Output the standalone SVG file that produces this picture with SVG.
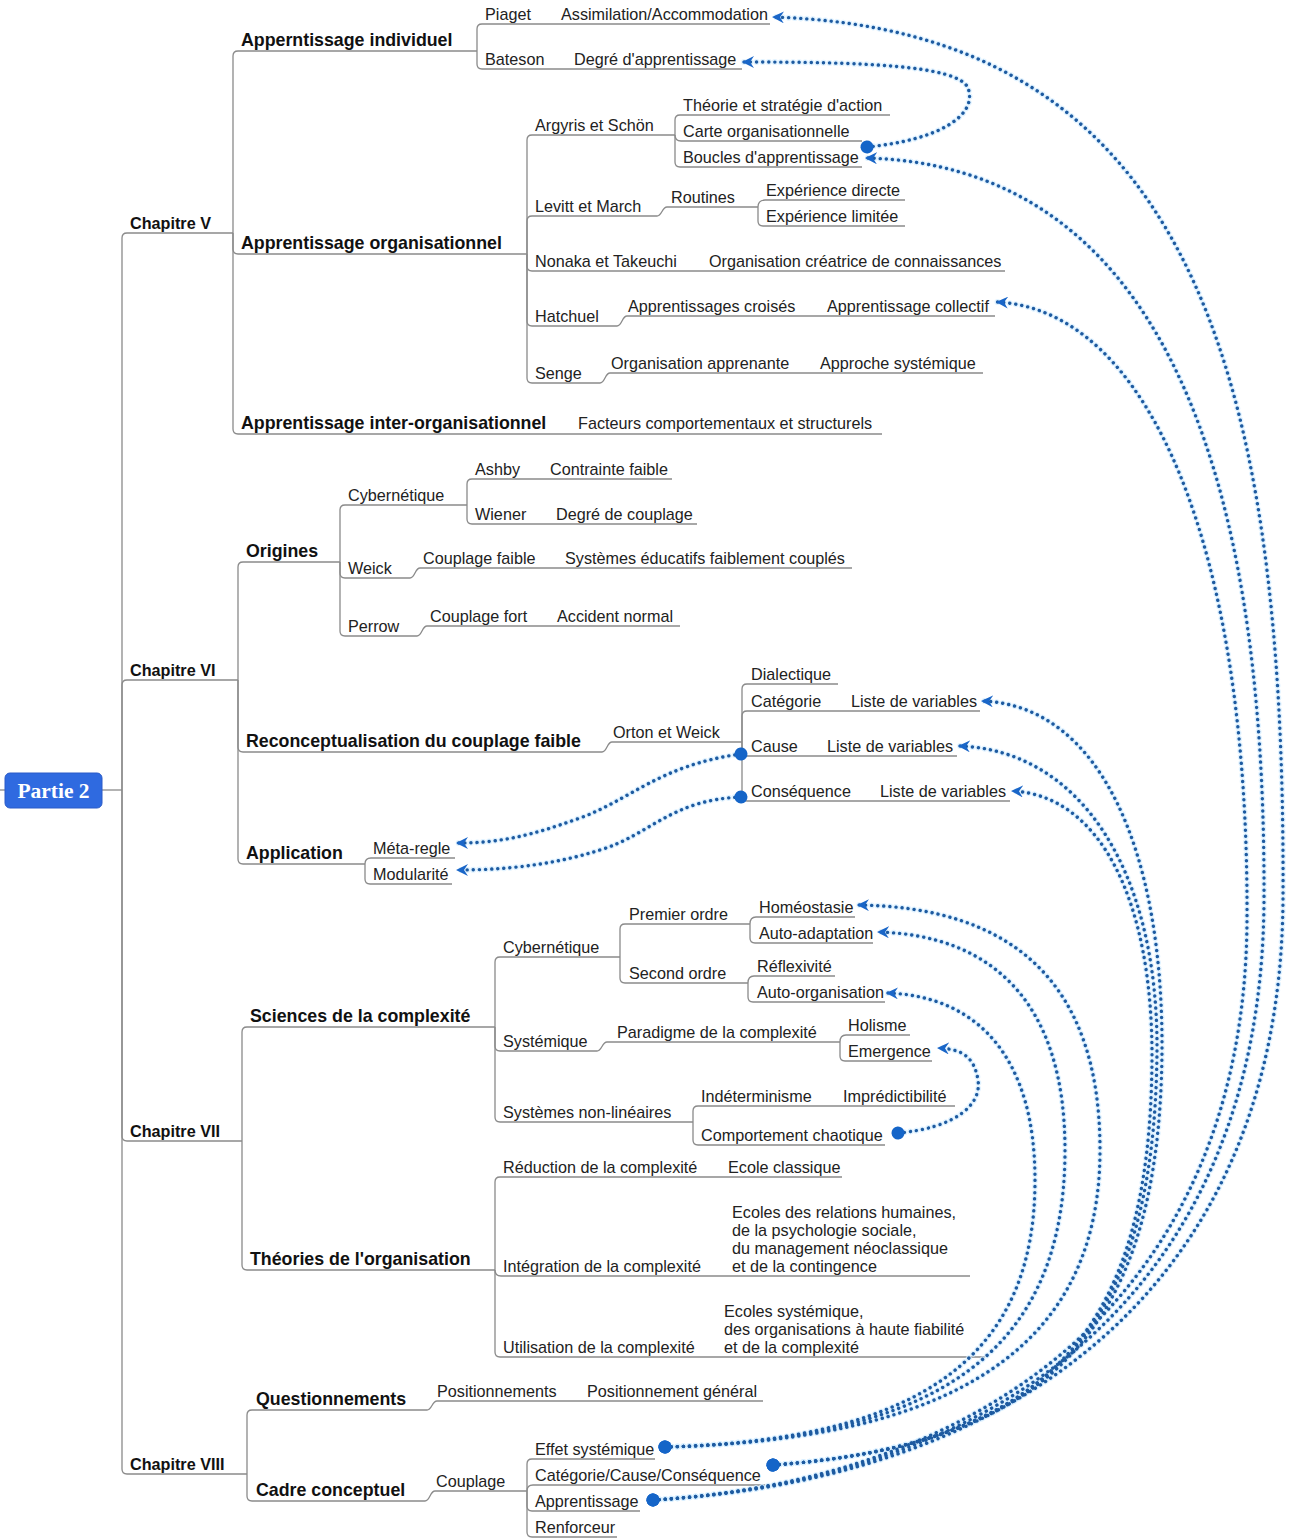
<svg xmlns="http://www.w3.org/2000/svg" width="1295" height="1539" viewBox="0 0 1295 1539">
<style>
.t{font-family:"Liberation Sans",Arial,sans-serif;font-size:16.2px;fill:#222}
.b2{font-family:"Liberation Sans",Arial,sans-serif;font-weight:bold;font-size:17.8px;fill:#111}
.ch{font-family:"Liberation Sans",Arial,sans-serif;font-weight:bold;font-size:16.2px;fill:#111}
.ln{fill:none;stroke:#8a8a8a;stroke-width:1.3}
.halo{fill:none;stroke:#d3ecff;stroke-width:6;stroke-dasharray:0.1 6;stroke-linecap:round;opacity:0.7}
.rel{fill:none;stroke:#1d5aa0;stroke-width:3.4;stroke-dasharray:0.1 6;stroke-linecap:round}
.arr{marker-end:url(#chev)}
.dot{marker-start:url(#dot)}
</style>
<defs>
<marker id="chev" viewBox="0 0 12 12" refX="11" refY="6" markerWidth="12" markerHeight="12" markerUnits="userSpaceOnUse" orient="auto">
<path d="M0,0 L12,6 L0,12 L4,6 Z" fill="#1a66c8"/>
</marker>
<marker id="dot" viewBox="-7 -7 14 14" refX="0" refY="0" markerWidth="14" markerHeight="14" markerUnits="userSpaceOnUse" orient="auto">
<circle r="6.5" fill="#1565c8"/>
</marker>
</defs>
<rect width="1295" height="1539" fill="#fff"/>

<g id="connectors">
<path class="ln" d="M0,790 H5"/>
<path class="ln" d="M102,790 H122"/>
<path class="ln" d="M122,790 V238 Q122,233 127,233 H233"/>
<path class="ln" d="M122,790 V685 Q122,680 127,680 H238"/>
<path class="ln" d="M122,790 V1136 Q122,1141 127,1141 H242"/>
<path class="ln" d="M122,790 V1469 Q122,1474 127,1474 H247"/>
<path class="ln" d="M233,233 V56 Q233,51 238,51 H477"/>
<path class="ln" d="M233,233 V249 Q233,254 238,254 H527"/>
<path class="ln" d="M233,233 V429 Q233,434 238,434 H882"/>
<path class="ln" d="M477,51 V29 Q477,24 482,24 H770"/>
<path class="ln" d="M477,51 V64 Q477,69 482,69 H742"/>
<path class="ln" d="M527,254 V140 Q527,135 532,135 H675"/>
<path class="ln" d="M675,135 V120 Q675,115 680,115 H890"/>
<path class="ln" d="M675,135 Q675,141 681,141 H862"/>
<path class="ln" d="M675,135 V162 Q675,167 680,167 H862"/>
<path class="ln" d="M527,254 V221 Q527,216 532,216 H657 C662,216 662,207 667,207 H758"/>
<path class="ln" d="M758,207 Q758,200 765,200 H905"/>
<path class="ln" d="M758,207 V221 Q758,226 763,226 H905"/>
<path class="ln" d="M527,254 V266 Q527,271 532,271 H1005"/>
<path class="ln" d="M527,254 V321 Q527,326 532,326 H617 C622,326 622,316 627,316 H995"/>
<path class="ln" d="M527,254 V378 Q527,383 532,383 H600 C605,383 605,373 610,373 H983"/>
<path class="ln" d="M238,680 V567 Q238,562 243,562 H340"/>
<path class="ln" d="M340,562 V510 Q340,505 345,505 H467"/>
<path class="ln" d="M467,505 V484 Q467,479 472,479 H672"/>
<path class="ln" d="M467,505 V519 Q467,524 472,524 H697"/>
<path class="ln" d="M340,562 V573 Q340,578 345,578 H410 C415,578 415,568 420,568 H852"/>
<path class="ln" d="M340,562 V631 Q340,636 345,636 H417 C422,636 422,626 427,626 H680"/>
<path class="ln" d="M238,680 V747 Q238,752 243,752 H602 C607,752 607,742 612,742 H742"/>
<path class="ln" d="M742,742 V689 Q742,684 747,684 H838"/>
<path class="ln" d="M742,742 V716 Q742,711 747,711 H980"/>
<path class="ln" d="M742,742 V751 Q742,756 747,756 H957"/>
<path class="ln" d="M742,742 V796 Q742,801 747,801 H1010"/>
<path class="ln" d="M238,680 V859 Q238,864 243,864 H365"/>
<path class="ln" d="M365,864 Q365,858 371,858 H455"/>
<path class="ln" d="M365,864 V879 Q365,884 370,884 H452"/>
<path class="ln" d="M242,1141 V1032 Q242,1027 247,1027 H495"/>
<path class="ln" d="M495,1027 V962 Q495,957 500,957 H620"/>
<path class="ln" d="M620,957 V929 Q620,924 625,924 H750"/>
<path class="ln" d="M750,924 Q750,917 756,917 H855"/>
<path class="ln" d="M750,924 V938 Q750,943 755,943 H873"/>
<path class="ln" d="M620,957 V978 Q620,983 625,983 H748"/>
<path class="ln" d="M748,983 Q748,976 754,976 H835"/>
<path class="ln" d="M748,983 V997 Q748,1002 753,1002 H885"/>
<path class="ln" d="M495,1027 V1046 Q495,1051 500,1051 H597 C602,1051 602,1042 607,1042 H840"/>
<path class="ln" d="M840,1042 Q840,1035 846,1035 H910"/>
<path class="ln" d="M840,1042 V1056 Q840,1061 845,1061 H932"/>
<path class="ln" d="M495,1027 V1117 Q495,1122 500,1122 H693"/>
<path class="ln" d="M693,1122 V1111 Q693,1106 698,1106 H955"/>
<path class="ln" d="M693,1122 V1140 Q693,1145 698,1145 H885"/>
<path class="ln" d="M242,1141 V1265 Q242,1270 247,1270 H495"/>
<path class="ln" d="M495,1270 V1182 Q495,1177 500,1177 H842"/>
<path class="ln" d="M495,1270 Q495,1276 501,1276 H970"/>
<path class="ln" d="M495,1270 V1352 Q495,1357 500,1357 H985"/>
<path class="ln" d="M247,1474 V1415 Q247,1410 252,1410 H427 C432,1410 432,1401 437,1401 H763"/>
<path class="ln" d="M247,1474 V1496 Q247,1501 252,1501 H425 C430,1501 430,1491 435,1491 H527"/>
<path class="ln" d="M527,1491 V1464 Q527,1459 532,1459 H655"/>
<path class="ln" d="M527,1491 Q527,1485 533,1485 H765"/>
<path class="ln" d="M527,1491 V1506 Q527,1511 532,1511 H640"/>
<path class="ln" d="M527,1491 V1532 Q527,1537 532,1537 H617"/>
</g>

<g id="root">
<rect x="5" y="773" width="97" height="35" rx="5" fill="#2f6ae0" stroke="#2a5bc8"/>
<text x="53.5" y="798" text-anchor="middle" font-family="'Liberation Serif','Times New Roman',serif" font-weight="bold" font-size="21.5" fill="#fff">Partie 2</text>
</g>

<g id="ch5"><text class="ch" x="130" y="228.5">Chapitre V</text></g>
<g id="ch6"><text class="ch" x="130" y="675.5">Chapitre VI</text></g>
<g id="ch7"><text class="ch" x="130" y="1136.5">Chapitre VII</text></g>
<g id="ch8"><text class="ch" x="130" y="1469.5">Chapitre VIII</text></g>

<g id="indiv"><text class="b2" x="241" y="45.5">Apperntissage individuel</text></g>
<g id="org"><text class="b2" x="241" y="248.5">Apprentissage organisationnel</text></g>
<g id="interorg"><text class="b2" x="241" y="428.5">Apprentissage inter-organisationnel</text></g>
<g id="origines"><text class="b2" x="246" y="556.5">Origines</text></g>
<g id="reconcept"><text class="b2" x="246" y="746.5">Reconceptualisation du couplage faible</text></g>
<g id="application"><text class="b2" x="246" y="858.5">Application</text></g>
<g id="sciences"><text class="b2" x="250" y="1021.5">Sciences de la complexité</text></g>
<g id="theories"><text class="b2" x="250" y="1264.5">Théories de l'organisation</text></g>
<g id="questionnements"><text class="b2" x="256" y="1404.5">Questionnements</text></g>
<g id="cadre"><text class="b2" x="256" y="1495.5">Cadre conceptuel</text></g>

<g id="piaget"><text class="t" x="485" y="20">Piaget</text></g>
<g id="assimilation"><text class="t" x="561" y="20">Assimilation/Accommodation</text></g>
<g id="bateson"><text class="t" x="485" y="65">Bateson</text></g>
<g id="degre-app"><text class="t" x="574" y="65">Degré d'apprentissage</text></g>
<g id="argyris"><text class="t" x="535" y="131">Argyris et Schön</text></g>
<g id="theorie"><text class="t" x="683" y="111">Théorie et stratégie d'action</text></g>
<g id="carte"><text class="t" x="683" y="137">Carte organisationnelle</text></g>
<g id="boucles"><text class="t" x="683" y="163">Boucles d'apprentissage</text></g>
<g id="levitt"><text class="t" x="535" y="212">Levitt et March</text></g>
<g id="routines"><text class="t" x="671" y="203">Routines</text></g>
<g id="exp-directe"><text class="t" x="766" y="196">Expérience directe</text></g>
<g id="exp-limitee"><text class="t" x="766" y="222">Expérience limitée</text></g>
<g id="nonaka"><text class="t" x="535" y="267">Nonaka et Takeuchi</text></g>
<g id="org-creatrice"><text class="t" x="709" y="267">Organisation créatrice de connaissances</text></g>
<g id="hatchuel"><text class="t" x="535" y="322">Hatchuel</text></g>
<g id="app-croises"><text class="t" x="628" y="312">Apprentissages croisés</text></g>
<g id="app-collectif"><text class="t" x="827" y="312">Apprentissage collectif</text></g>
<g id="senge"><text class="t" x="535" y="379">Senge</text></g>
<g id="org-apprenante"><text class="t" x="611" y="369">Organisation apprenante</text></g>
<g id="approche-sys"><text class="t" x="820" y="369">Approche systémique</text></g>
<g id="facteurs"><text class="t" x="578" y="429">Facteurs comportementaux et structurels</text></g>

<g id="cyber1"><text class="t" x="348" y="501">Cybernétique</text></g>
<g id="ashby"><text class="t" x="475" y="475">Ashby</text></g>
<g id="contrainte"><text class="t" x="550" y="475">Contrainte faible</text></g>
<g id="wiener"><text class="t" x="475" y="520">Wiener</text></g>
<g id="degre-couplage"><text class="t" x="556" y="520">Degré de couplage</text></g>
<g id="weick"><text class="t" x="348" y="574">Weick</text></g>
<g id="couplage-faible"><text class="t" x="423" y="564">Couplage faible</text></g>
<g id="systemes-educ"><text class="t" x="565" y="564">Systèmes éducatifs faiblement couplés</text></g>
<g id="perrow"><text class="t" x="348" y="632">Perrow</text></g>
<g id="couplage-fort"><text class="t" x="430" y="622">Couplage fort</text></g>
<g id="accident"><text class="t" x="557" y="622">Accident normal</text></g>
<g id="orton"><text class="t" x="613" y="738">Orton et Weick</text></g>
<g id="dialectique"><text class="t" x="751" y="680">Dialectique</text></g>
<g id="categorie"><text class="t" x="751" y="707">Catégorie</text></g>
<g id="liste1"><text class="t" x="851" y="707">Liste de variables</text></g>
<g id="cause"><text class="t" x="751" y="752">Cause</text></g>
<g id="liste2"><text class="t" x="827" y="752">Liste de variables</text></g>
<g id="consequence"><text class="t" x="751" y="797">Conséquence</text></g>
<g id="liste3"><text class="t" x="880" y="797">Liste de variables</text></g>
<g id="meta-regle"><text class="t" x="373" y="854">Méta-regle</text></g>
<g id="modularite"><text class="t" x="373" y="880">Modularité</text></g>

<g id="cyber2"><text class="t" x="503" y="953">Cybernétique</text></g>
<g id="premier"><text class="t" x="629" y="920">Premier ordre</text></g>
<g id="homeostasie"><text class="t" x="759" y="913">Homéostasie</text></g>
<g id="auto-adaptation"><text class="t" x="759" y="939">Auto-adaptation</text></g>
<g id="second"><text class="t" x="629" y="979">Second ordre</text></g>
<g id="reflexivite"><text class="t" x="757" y="972">Réflexivité</text></g>
<g id="auto-organisation"><text class="t" x="757" y="998">Auto-organisation</text></g>
<g id="systemique"><text class="t" x="503" y="1047">Systémique</text></g>
<g id="paradigme"><text class="t" x="617" y="1038">Paradigme de la complexité</text></g>
<g id="holisme"><text class="t" x="848" y="1031">Holisme</text></g>
<g id="emergence"><text class="t" x="848" y="1057">Emergence</text></g>
<g id="non-lineaires"><text class="t" x="503" y="1118">Systèmes non-linéaires</text></g>
<g id="indeterminisme"><text class="t" x="701" y="1102">Indéterminisme</text></g>
<g id="impredictibilite"><text class="t" x="843" y="1102">Imprédictibilité</text></g>
<g id="chaotique"><text class="t" x="701" y="1141">Comportement chaotique</text></g>
<g id="reduction"><text class="t" x="503" y="1173">Réduction de la complexité</text></g>
<g id="ecole-classique"><text class="t" x="728" y="1173">Ecole classique</text></g>
<g id="integration"><text class="t" x="503" y="1272">Intégration de la complexité</text></g>
<g id="ecoles-rel"><text class="t" x="732" y="1218">Ecoles des relations humaines,</text><text class="t" x="732" y="1236">de la psychologie sociale,</text><text class="t" x="732" y="1254">du management néoclassique</text><text class="t" x="732" y="1272">et de la contingence</text></g>
<g id="utilisation"><text class="t" x="503" y="1353">Utilisation de la complexité</text></g>
<g id="ecoles-sys"><text class="t" x="724" y="1317">Ecoles systémique,</text><text class="t" x="724" y="1335">des organisations à haute fiabilité</text><text class="t" x="724" y="1353">et de la complexité</text></g>

<g id="positionnements"><text class="t" x="437" y="1397">Positionnements</text></g>
<g id="pos-general"><text class="t" x="587" y="1397">Positionnement général</text></g>
<g id="couplage"><text class="t" x="436" y="1487">Couplage</text></g>
<g id="effet"><text class="t" x="535" y="1455">Effet systémique</text></g>
<g id="ccc"><text class="t" x="535" y="1481">Catégorie/Cause/Conséquence</text></g>
<g id="apprentissage"><text class="t" x="535" y="1507">Apprentissage</text></g>
<g id="renforceur"><text class="t" x="535" y="1533">Renforceur</text></g>

<g id="relations">
<g id="halos">
<path class="halo" d="M867,147 C940,140 978,115 968,88 C958,65 860,62 743,62"/>
<path class="halo" d="M898,1133 C955,1128 982,1105 978,1080 C974,1055 960,1049 938,1048"/>
<path class="halo" d="M741,754 C660,765 630,800 580,818 C530,836 500,843 457,843"/>
<path class="halo" d="M741,797 C670,800 650,835 600,850 C550,866 500,870 457,870"/>
<path class="halo" d="M665,1447 C950,1440 1100,1350 1100,1150 C1100,980 1010,907 858,905"/>
<path class="halo" d="M665,1447 C940,1440 1065,1350 1065,1150 C1065,1000 990,935 878,932"/>
<path class="halo" d="M665,1447 C930,1440 1035,1350 1035,1180 C1035,1060 980,996 887,993"/>
<path class="halo" d="M773,1465 C1050,1445 1160,1330 1162,1050 C1163,850 1100,705 982,701"/>
<path class="halo" d="M773,1465 C1050,1445 1155,1330 1157,1050 C1158,870 1080,750 959,746"/>
<path class="halo" d="M773,1465 C1050,1445 1150,1330 1152,1060 C1153,900 1100,795 1012,791"/>
<path class="halo" d="M653,1500 C1000,1480 1280,1300 1283,900 C1286,350 1180,30 773,17"/>
<path class="halo" d="M653,1500 C990,1480 1262,1300 1264,900 C1266,450 1150,165 866,158"/>
<path class="halo" d="M653,1500 C980,1480 1245,1300 1247,920 C1249,550 1150,310 997,302"/>
</g>
<path class="rel dot arr" d="M867,147 C940,140 978,115 968,88 C958,65 860,62 743,62"/>
<path class="rel dot arr" d="M898,1133 C955,1128 982,1105 978,1080 C974,1055 960,1049 938,1048"/>
<path class="rel dot arr" d="M741,754 C660,765 630,800 580,818 C530,836 500,843 457,843"/>
<path class="rel dot arr" d="M741,797 C670,800 650,835 600,850 C550,866 500,870 457,870"/>
<path class="rel dot arr" d="M665,1447 C950,1440 1100,1350 1100,1150 C1100,980 1010,907 858,905"/>
<path class="rel dot arr" d="M665,1447 C940,1440 1065,1350 1065,1150 C1065,1000 990,935 878,932"/>
<path class="rel dot arr" d="M665,1447 C930,1440 1035,1350 1035,1180 C1035,1060 980,996 887,993"/>
<path class="rel dot arr" d="M773,1465 C1050,1445 1160,1330 1162,1050 C1163,850 1100,705 982,701"/>
<path class="rel dot arr" d="M773,1465 C1050,1445 1155,1330 1157,1050 C1158,870 1080,750 959,746"/>
<path class="rel dot arr" d="M773,1465 C1050,1445 1150,1330 1152,1060 C1153,900 1100,795 1012,791"/>
<path class="rel dot arr" d="M653,1500 C1000,1480 1280,1300 1283,900 C1286,350 1180,30 773,17"/>
<path class="rel dot arr" d="M653,1500 C990,1480 1262,1300 1264,900 C1266,450 1150,165 866,158"/>
<path class="rel dot arr" d="M653,1500 C980,1480 1245,1300 1247,920 C1249,550 1150,310 997,302"/>
</g>
</svg>
